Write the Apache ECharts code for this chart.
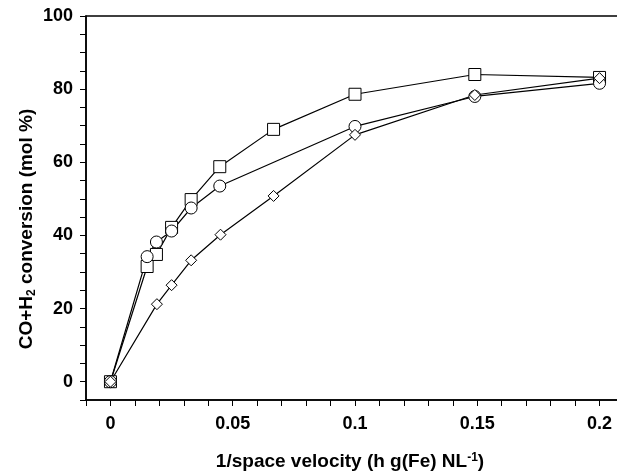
<!DOCTYPE html>
<html>
<head>
<meta charset="utf-8">
<script src="https://cdn.jsdelivr.net/npm/echarts@6/dist/echarts.min.js"></script>
<style>html,body{margin:0;padding:0;background:#fff;overflow:hidden;}#c{width:617px;height:476px;}</style>
</head>
<body>
<div id="c"></div>
<script>
const squareData = [[0,0],[0.015,31.5],[0.0188,34.8],[0.025,42.2],[0.033,49.8],[0.0447,58.8],[0.0667,69.0],[0.1,78.6],[0.149,84.0],[0.2,83.2]];
const circleData = [[0,0],[0.015,34.2],[0.0188,38.2],[0.025,41.2],[0.033,47.5],[0.0447,53.5],[0.1,69.8],[0.149,78.0],[0.2,81.6]];
const diamondData = [[0,0],[0.019,21.2],[0.025,26.4],[0.033,33.2],[0.045,40.2],[0.0667,50.8],[0.1,67.5],[0.149,78.4],[0.2,83.0]];
const xLabels = [0, 0.05, 0.1, 0.15, 0.2];
const yLabels = [0, 20, 40, 60, 80, 100];
const xTitle = ['1/space velocity (h g(Fe) NL', '-1', ')'];
const yTitle = ['CO+H', '2', ' conversion (mol %)'];

const font = '"Liberation Sans", Arial, sans-serif';
const chart = echarts.init(document.getElementById('c'), null, {renderer: 'canvas'});
function mk(name, data, symbol, size) {
  return {
    name: name, type: 'line', data: data, symbol: symbol, symbolSize: size,
    showAllSymbol: true,
    lineStyle: {color: '#000', width: 1.2},
    itemStyle: {color: '#fff', borderColor: '#000', borderWidth: 1},
    emphasis: {disabled: true}, animation: false, z: 3
  };
}
const richTitle = {
  a: {fontFamily: font, fontWeight: 'bold', fontSize: 19, fill: '#000', color: '#000'},
  s: {fontFamily: font, fontWeight: 'bold', fontSize: 12, fill: '#000', color: '#000', verticalAlign: 'top', padding: [0, 0, 9, 0]},
  b: {fontFamily: font, fontWeight: 'bold', fontSize: 12, fill: '#000', color: '#000', verticalAlign: 'bottom', padding: [9, 0, 0, 0]}
};
chart.setOption({
  animation: false,
  backgroundColor: '#fff',
  grid: {left: 86, top: 16, width: 538, height: 384, outerBoundsMode: 'none', containLabel: false, show: true, borderColor: '#000', borderWidth: 1.5, backgroundColor: 'transparent'},
  xAxis: {
    type: 'value', min: -0.01, max: 0.21, interval: 0.01,
    axisLine: {show: true, onZero: false, lineStyle: {color: '#000', width: 1.5}},
    axisTick: {show: true, inside: false, length: 6, lineStyle: {color: '#000'}},
    splitLine: {show: false},
    axisLabel: {
      margin: 15, color: '#000', fontFamily: font, fontWeight: 'bold', fontSize: 18,
      showMinLabel: true, showMaxLabel: false, hideOverlap: false,
      formatter: function (v) {
        const r = Math.round(v * 1000) / 1000;
        for (const l of xLabels) { if (Math.abs(l - r) < 1e-6) return String(l); }
        return '';
      }
    }
  },
  yAxis: {
    type: 'value', min: -5, max: 100, interval: 5,
    axisLine: {show: true, onZero: false, lineStyle: {color: '#000', width: 1.5}},
    axisTick: {show: true, inside: false, length: 6, lineStyle: {color: '#000'}},
    splitLine: {show: false},
    axisLabel: {
      margin: 13, color: '#000', fontFamily: font, fontWeight: 'bold', fontSize: 18, hideOverlap: false,
      formatter: function (v) {
        const r = Math.round(v);
        return yLabels.indexOf(r) >= 0 ? String(r) : '';
      }
    }
  },
  graphic: [
    {type: 'text', x: 350, y: 462, z: 10, style: {
      text: '{a|' + xTitle[0] + '}{s|' + xTitle[1] + '}{a|' + xTitle[2] + '}',
      rich: richTitle, align: 'center', verticalAlign: 'middle'}},
    {type: 'text', x: 27, y: 229, rotation: Math.PI / 2, z: 10, style: {
      text: '{a|' + yTitle[0] + '}{b|' + yTitle[1] + '}{a|' + yTitle[2] + '}',
      rich: richTitle, align: 'center', verticalAlign: 'middle'}}
  ],
  series: [
    mk('square', squareData, 'rect', 12),
    mk('circle', circleData, 'circle', 12),
    mk('diamond', diamondData, 'diamond', 11)
  ]
});
</script>
</body>
</html>
